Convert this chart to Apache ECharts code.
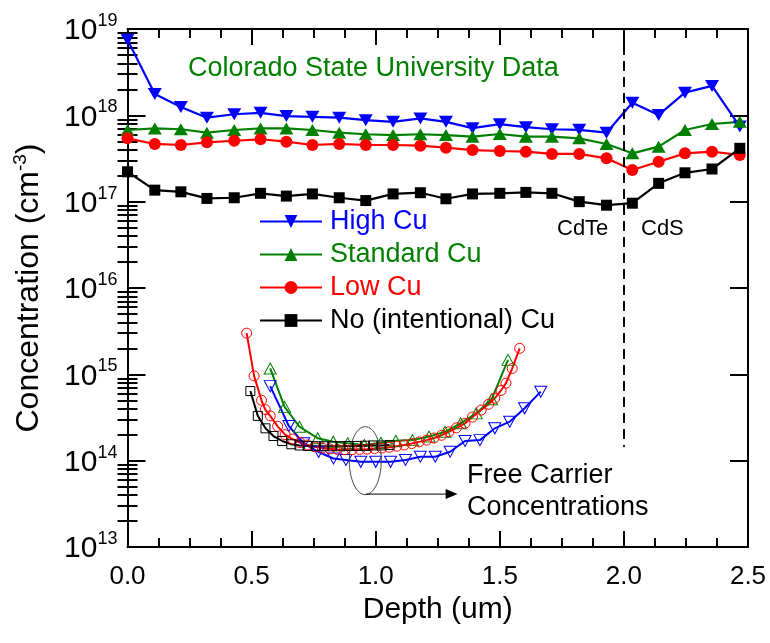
<!DOCTYPE html>
<html>
<head>
<meta charset="utf-8">
<script src="https://cdn.jsdelivr.net/npm/echarts@6/dist/echarts.min.js"></script>
<style>
html,body{margin:0;padding:0;background:#fff;}
#c{width:770px;height:643px;}
</style>
</head>
<body>
<div id="c"></div>
<script>
// ---- Data ----
const depth = [0, 0.11, 0.215, 0.32, 0.43, 0.536, 0.64, 0.745, 0.853, 0.96, 1.07, 1.18, 1.283, 1.39, 1.5, 1.605, 1.71, 1.82, 1.93, 2.034, 2.14, 2.246, 2.355, 2.467];
const highCu = [7.5e18, 1.77e18, 1.25e18, 9.4e17, 1.03e18, 1.07e18, 9.8e17, 9.6e17, 9.4e17, 8.8e17, 8.4e17, 9.2e17, 8.4e17, 7.1e17, 7.9e17, 7.3e17, 6.9e17, 6.8e17, 6.3e17, 1.4e18, 1.01e18, 1.83e18, 2.19e18, 7.4e17];
const standardCu = [6.76e17, 7.06e17, 6.9e17, 6.3e17, 6.76e17, 7.06e17, 7.06e17, 6.76e17, 6.3e17, 6.04e17, 5.9e17, 6.04e17, 5.9e17, 5.66e17, 6.08e17, 5.66e17, 5.66e17, 5.42e17, 4.66e17, 3.63e17, 4.34e17, 6.76e17, 7.94e17, 8.4e17];
const lowCu = [5.42e17, 4.66e17, 4.53e17, 4.87e17, 5.08e17, 5.28e17, 4.95e17, 4.53e17, 4.66e17, 4.53e17, 4.53e17, 4.45e17, 4.22e17, 3.96e17, 3.86e17, 3.79e17, 3.57e17, 3.57e17, 3.18e17, 2.33e17, 2.9e17, 3.63e17, 3.79e17, 3.47e17];
const noCu = [2.22e17, 1.36e17, 1.3e17, 1.09e17, 1.11e17, 1.25e17, 1.16e17, 1.23e17, 1.11e17, 1.03e17, 1.23e17, 1.27e17, 1.08e17, 1.23e17, 1.25e17, 1.28e17, 1.25e17, 1.0e17, 9.1e16, 9.6e16, 1.63e17, 2.16e17, 2.39e17, 4.15e17];

// Free carrier concentrations (hollow markers)
const fcHighX = [0.575, 0.65, 0.71, 0.77, 0.83, 0.88, 0.94, 1.0, 1.06, 1.12, 1.18, 1.24, 1.30, 1.36, 1.42, 1.48, 1.54, 1.60, 1.665];
const fcHighY = [7.3e14, 2.52e14, 1.59e14, 1.26e14, 1.06e14, 1.02e14, 9.7e13, 9.7e13, 9.7e13, 1.02e14, 1.11e14, 1.11e14, 1.27e14, 1.69e14, 1.73e14, 2.37e14, 2.83e14, 4.04e14, 6.3e14];
const fcStdX = [0.575, 0.633, 0.693, 0.766, 0.829, 0.887, 0.954, 1.021, 1.081, 1.148, 1.215, 1.279, 1.342, 1.405, 1.467, 1.533];
const fcStdY = [1.17e15, 4.2e14, 2.47e14, 1.82e14, 1.66e14, 1.59e14, 1.52e14, 1.61e14, 1.7e14, 1.73e14, 1.9e14, 2.16e14, 2.71e14, 3.53e14, 5.14e14, 1.47e15];
const fcLowX = [0.48, 0.51, 0.54, 0.555, 0.575, 0.605, 0.635, 0.665, 0.695, 0.725, 0.755, 0.785, 0.815, 0.845, 0.875, 0.905, 0.935, 0.965, 0.995, 1.025, 1.055, 1.085, 1.115, 1.145, 1.175, 1.205, 1.235, 1.265, 1.295, 1.325, 1.36, 1.39, 1.425, 1.455, 1.48, 1.505, 1.525, 1.55, 1.58];
const fcLowY = [3.0e15, 9.6e14, 5.0e14, 3.9e14, 3.3e14, 2.5e14, 2.0e14, 1.78e14, 1.62e14, 1.52e14, 1.45e14, 1.4e14, 1.37e14, 1.35e14, 1.34e14, 1.34e14, 1.35e14, 1.36e14, 1.38e14, 1.4e14, 1.43e14, 1.47e14, 1.52e14, 1.58e14, 1.65e14, 1.73e14, 1.83e14, 1.97e14, 2.16e14, 2.4e14, 2.71e14, 3.2e14, 3.86e14, 4.5e14, 5.3e14, 6.5e14, 7.9e14, 1.17e15, 2.0e15];
const fcNoX = [0.495, 0.525, 0.556, 0.588, 0.623, 0.66, 0.693, 0.726, 0.759, 0.792, 0.825, 0.858, 0.891, 0.924, 0.957, 0.99, 1.023, 1.056];
const fcNoY = [6.4e14, 3.3e14, 2.37e14, 1.93e14, 1.69e14, 1.55e14, 1.5e14, 1.48e14, 1.47e14, 1.47e14, 1.47e14, 1.47e14, 1.48e14, 1.48e14, 1.49e14, 1.5e14, 1.5e14, 1.52e14];

const yMajor = [1e13, 1e14, 1e15, 1e16, 1e17, 1e18, 1e19];
const xTickLabels = ['0.0', '0.5', '1.0', '1.5', '2.0', '2.5'];
const interfaceDepth = 2.0;

// minor log ticks
const yMinor = [];
for (let e = 13; e < 19; e++) for (let m = 2; m <= 9; m++) yMinor.push(m * Math.pow(10, e));

const BLUE = '#0000ff', GREEN = '#008000', RED = '#ff0000', BLACK = '#000000';
const FONT = 'Liberation Sans, Arial, sans-serif';
const downTri = 'path://M0,0 L10,0 L5,9 Z';

function zip(xs, ys) { return xs.map((x, i) => [x, ys[i]]); }

const chart = echarts.init(document.getElementById('c'), null, {renderer: 'canvas'});

function mainSeries(name, ys, color, symbol, size) {
  return {
    name, type: 'line', xAxisIndex: 0, yAxisIndex: 0,
    data: zip(depth, ys), symbol, symbolSize: size,
    lineStyle: {color, width: 2.2}, itemStyle: {color, borderWidth: 0},
    color, z: 3, animation: false
  };
}
function fcSeries(name, xs, ys, color, symbol, size) {
  return {
    name, type: 'line', xAxisIndex: 0, yAxisIndex: 0,
    data: zip(xs, ys), symbol, symbolSize: size,
    lineStyle: {color, width: 2},
    itemStyle: {color: 'rgba(255,255,255,0)', borderColor: color, borderWidth: 1},
    z: 2, animation: false
  };
}

const axisCommon = {
  type: 'log', logBase: 10, min: 1e13, max: 1e19,
  splitLine: {show: false}, minorTick: {show: false}, minorSplitLine: {show: false}
};

const hi = mainSeries('High Cu', highCu, BLUE, downTri, [14, 12]);
hi.markLine = {
  silent: true, symbol: 'none', animation: false,
  label: {show: false},
  lineStyle: {color: '#000', width: 2, type: [10, 6]},
  data: [[{coord: [interfaceDepth, 1e19]}, {coord: [interfaceDepth, 1.45e14]}]]
};

const option = {
  backgroundColor: '#fff',
  animation: false,
  grid: {left: 127.5, right: 22, top: 29, bottom: 96, containLabel: false},
  legend: {
    data: [
      {name: 'High Cu', textStyle: {color: BLUE}},
      {name: 'Standard Cu', textStyle: {color: GREEN}},
      {name: 'Low Cu', textStyle: {color: RED}},
      {name: 'No (intentional) Cu', textStyle: {color: BLACK}}
    ],
    orient: 'vertical', left: 259, top: 208, padding: 0,
    itemWidth: 62, itemHeight: 16, itemGap: 6,
    textStyle: {fontFamily: FONT, fontSize: 27, lineHeight: 27, padding: [0, 0, 0, 3]},
    selectedMode: false
  },
  xAxis: [
    {
      type: 'value', min: 0, max: 2.5, interval: 0.5, position: 'bottom',
      name: 'Depth (um)', nameLocation: 'middle', nameGap: 42,
      nameTextStyle: {fontFamily: FONT, fontSize: 30, color: '#000'},
      axisLine: {show: true, onZero: false, lineStyle: {color: '#000', width: 2}},
      axisTick: {show: true, inside: true, length: 16, lineStyle: {width: 2, color: '#000'}},
      minorTick: {show: true, splitNumber: 4, length: 9, lineStyle: {width: 2, color: '#000'}},
      axisLabel: {margin: 17, fontFamily: FONT, fontSize: 26, color: '#000',
        formatter: v => xTickLabels[Math.round(v / 0.5)]},
      splitLine: {show: false}
    },
    {
      type: 'value', min: 0, max: 2.5, interval: 0.5, position: 'top',
      axisLine: {show: true, onZero: false, lineStyle: {color: '#000', width: 2}},
      axisTick: {show: true, inside: true, length: 16, lineStyle: {width: 2, color: '#000'}},
      minorTick: {show: true, splitNumber: 4, length: 9, lineStyle: {width: 2, color: '#000'}},
      axisLabel: {show: false}, splitLine: {show: false}
    }
  ],
  yAxis: [
    Object.assign({}, axisCommon, {
      position: 'left',
      name: 'Concentration (cm{s|-3})', nameLocation: 'middle', nameGap: 80,
      nameTextStyle: {fontFamily: FONT, fontSize: 32, color: '#000',
        rich: {s: {fontFamily: FONT, fontSize: 19, verticalAlign: 'bottom', padding: [0, 0, 17, 0], color: '#000'}}},
      axisLine: {show: true, onZero: false, lineStyle: {color: '#000', width: 2}},
      axisTick: {show: true, inside: true, length: 18, customValues: yMajor, lineStyle: {width: 2, color: '#000'}},
      axisLabel: {
        customValues: yMajor, margin: 10, fontFamily: FONT, color: '#000',
        formatter: v => '{b|10}{s|' + Math.round(Math.log10(v)) + '}',
        rich: {
          b: {fontFamily: FONT, fontSize: 30, color: '#000', verticalAlign: 'bottom'},
          s: {fontFamily: FONT, fontSize: 18, color: '#000', verticalAlign: 'bottom', padding: [0, 0, 16, 0]}
        }
      }
    }),
    Object.assign({}, axisCommon, {
      position: 'right',
      axisLine: {show: true, onZero: false, lineStyle: {color: '#000', width: 2}},
      axisTick: {show: true, inside: true, length: 18, customValues: yMajor, lineStyle: {width: 2, color: '#000'}},
      axisLabel: {show: false}
    }),
    Object.assign({}, axisCommon, {
      position: 'left',
      axisLine: {show: false},
      axisTick: {show: true, inside: true, length: 10, customValues: yMinor, lineStyle: {width: 2, color: '#000'}},
      axisLabel: {show: false}
    }),
    Object.assign({}, axisCommon, {
      position: 'right',
      axisLine: {show: false},
      axisTick: {show: true, inside: true, length: 10, customValues: yMinor, lineStyle: {width: 2, color: '#000'}},
      axisLabel: {show: false}
    })
  ],
  series: [
    hi,
    mainSeries('Standard Cu', standardCu, GREEN, 'triangle', [14, 12]),
    mainSeries('Low Cu', lowCu, RED, 'circle', 12),
    mainSeries('No (intentional) Cu', noCu, BLACK, 'rect', 11),
    fcSeries('fc High Cu', fcHighX, fcHighY, BLUE, downTri, [12, 11]),
    fcSeries('fc Standard Cu', fcStdX, fcStdY, GREEN, 'triangle', [12, 11]),
    fcSeries('fc Low Cu', fcLowX, fcLowY, RED, 'circle', 10),
    fcSeries('fc No Cu', fcNoX, fcNoY, BLACK, 'rect', 9)
  ]
};
chart.setOption(option);

// annotations positioned through the chart's own scales
const p = (x, y) => chart.convertToPixel({xAxisIndex: 0, yAxisIndex: 0}, [x, y]);
const ellC = p(0.958, 1.0e14);
const arrA = p(0.96, 4.1e13);
const arrB = p(1.33, 4.1e13);
chart.setOption({
  graphic: [
    {type: 'text', left: 188, top: 55, style: {text: 'Colorado State University Data', fill: GREEN, font: '27px ' + FONT}},
    {type: 'text', left: 557, top: 218, style: {text: 'CdTe', fill: '#000', font: '22px ' + FONT}},
    {type: 'text', left: 641, top: 218, style: {text: 'CdS', fill: '#000', font: '22px ' + FONT}},
    {type: 'text', left: 467, top: 462, style: {text: 'Free Carrier', fill: '#000', font: '27px ' + FONT}},
    {type: 'text', left: 467, top: 494, style: {text: 'Concentrations', fill: '#000', font: '27px ' + FONT}},
    {type: 'ellipse', shape: {cx: ellC[0], cy: ellC[1], rx: 16, ry: 34}, style: {fill: 'none', stroke: '#444', lineWidth: 1}, z: 10},
    {type: 'line', shape: {x1: arrA[0], y1: arrA[1], x2: arrB[0] - 10, y2: arrB[1]}, style: {stroke: '#000', lineWidth: 1}, z: 10},
    {type: 'polygon', shape: {points: [[arrB[0], arrB[1]], [arrB[0] - 12, arrB[1] - 5], [arrB[0] - 12, arrB[1] + 5]]}, style: {fill: '#000'}, z: 10}
  ]
});
</script>
</body>
</html>
